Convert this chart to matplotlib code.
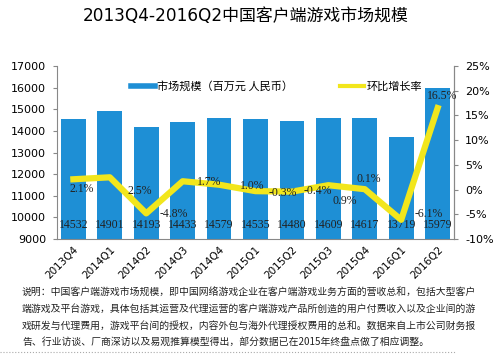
import matplotlib
matplotlib.use("Agg")
import matplotlib.pyplot as plt
from matplotlib.lines import Line2D
import numpy as np

plt.rcParams['font.family'] = ['DejaVu Sans', 'Noto Sans CJK SC']
plt.rcParams['axes.unicode_minus'] = False

quarters = ['2013Q4', '2014Q1', '2014Q2', '2014Q3', '2014Q4', '2015Q1',
            '2015Q2', '2015Q3', '2015Q4', '2016Q1', '2016Q2']
market = [14532, 14901, 14193, 14433, 14579, 14535, 14480, 14609, 14617, 13719, 15979]
growth = [2.1, 2.5, -4.8, 1.7, 1.0, -0.3, -0.4, 0.9, 0.1, -6.1, 16.5]

# label offsets in pixels (dx right, dy up), copied from the layout of the original
pct_offsets = [(8, -10), (30, -14), (28, -1), (26, -1), (33, -1), (27, -2),
               (26, 1), (16, -16), (4, 10), (27, 6), (5, 12)]

blue = '#1e8fd5'
yellow = '#f2e61c'

fig = plt.figure(figsize=(5, 3.59), dpi=100)
ax = fig.add_axes([0.114, 0.334, 0.794, 0.482])
x = np.arange(len(quarters))
ax.bar(x, market, width=0.68, color=blue, zorder=1)
ax.set_ylim(9000, 17000)
ax.set_yticks(range(9000, 17001, 1000))
ax.set_xlim(-0.45, len(quarters) - 0.55)
ax.set_xticks(x)
ax.set_xticklabels(quarters, rotation=45, ha='right', rotation_mode='anchor', fontsize=7.5)
ax.tick_params(axis='x', length=0, pad=4)
ax.tick_params(axis='y', labelsize=8, length=3, color='#888888', pad=5)
ax.spines['top'].set_visible(False)
for s in ['left', 'bottom', 'right']:
    ax.spines[s].set_color('#888888')
    ax.spines[s].set_linewidth(0.8)

for xi, v in zip(x, market):
    ax.text(xi, 9650, str(v), ha='center', va='center', fontsize=8.5,
            family='Liberation Serif', color='#222222', zorder=5)

ax2 = ax.twinx()
ax2.plot(x, growth, color=yellow, lw=4.5, solid_joinstyle='round', zorder=3)
ax2.set_ylim(-10, 25)
ax2.set_yticks(range(-10, 26, 5))
ax2.set_yticklabels([f'{t}%' for t in range(-10, 26, 5)])
ax2.tick_params(axis='y', labelsize=8, length=3, color='#888888', pad=5)
for s in ['top', 'left', 'bottom']:
    ax2.spines[s].set_visible(False)
ax2.spines['right'].set_color('#888888')
ax2.spines['right'].set_linewidth(0.8)

for xi, g, (dx, dy) in zip(x, growth, pct_offsets):
    ax2.annotate(f'{g:.1f}%', (xi, g), xytext=(dx, dy), textcoords='offset pixels',
                 ha='center', va='center', fontsize=8.5, family='Liberation Serif',
                 color='#222222', zorder=6)

handles = [Line2D([], [], color=blue, lw=4), Line2D([], [], color=yellow, lw=3)]
ax2.legend(handles, ['市场规模（百万元 人民币）', '环比增长率'], loc='upper left',
           bbox_to_anchor=(0.16, 0.97), ncol=2, frameon=False,
           handlelength=2.2, handletextpad=0.2, columnspacing=4.2,
           prop={'family': ['Noto Sans CJK SC'], 'size': 8})

fig.text(0.492, 0.955, '2013Q4-2016Q2中国客户端游戏市场规模', ha='center', va='center',
         fontsize=12.2, family=['DejaVu Sans', 'Noto Sans CJK SC'])

note = ['说明：中国客户端游戏市场规模，即中国网络游戏企业在客户端游戏业务方面的营收总和，包括大型客户',
        '端游戏及平台游戏，具体包括其运营及代理运营的客户端游戏产品所创造的用户付费收入以及企业间的游',
        '戏研发与代理费用，游戏平台间的授权，内容外包与海外代理授权费用的总和。数据来自上市公司财务报',
        '告、行业访谈、厂商深访以及易观推算模型得出，部分数据已在2015年终盘点做了相应调整。']
for i, line in enumerate(note):
    fig.text(0.044, 1 - (293 + 16.2 * i) / 359, line, ha='left', va='center',
             fontsize=7.1, family=['Noto Sans CJK SC'], color='#222222')

fig.add_artist(Line2D([0.0, 0.91], [1 - 352 / 359] * 2, color='#aaaaaa', lw=0.8,
                      linestyle=':', transform=fig.transFigure))

fig.savefig('out.png', dpi=100, facecolor='white')
